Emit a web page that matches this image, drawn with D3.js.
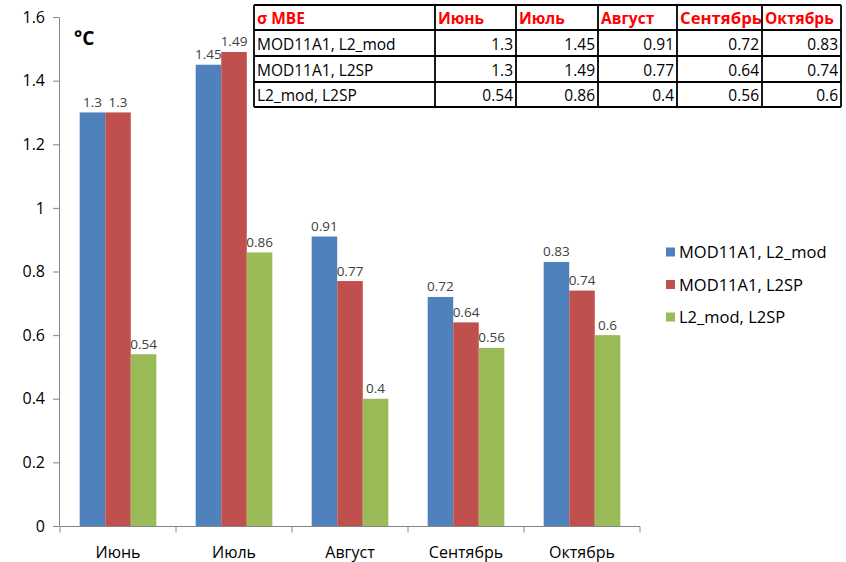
<!DOCTYPE html>
<html>
<head>
<meta charset="utf-8">
<script src="https://cdn.jsdelivr.net/npm/d3@7"></script>
<style>
  html, body { margin: 0; padding: 0; background: #fff; }
  svg { display: block; }
  text { font-family: "Open Sans", "Noto Sans", sans-serif; }
</style>
</head>
<body>
<svg id="chart" width="846" height="562"></svg>
<script>
// Months and series of σ MBE, °C
const months = ["Июнь", "Июль", "Август", "Сентябрь", "Октябрь"];
const seriesNames = ["MOD11A1, L2_mod", "MOD11A1, L2SP", "L2_mod, L2SP"];
const mod11a1_l2mod = [1.3, 1.45, 0.91, 0.72, 0.83];
const mod11a1_l2sp = [1.3, 1.49, 0.77, 0.64, 0.74];
const l2mod_l2sp = [0.54, 0.86, 0.4, 0.56, 0.6];
const yTicks = [0, 0.2, 0.4, 0.6, 0.8, 1, 1.2, 1.4, 1.6];
const colors = ["#4F81BD", "#C0504D", "#9BBB59"];

const series = [mod11a1_l2mod, mod11a1_l2sp, l2mod_l2sp];

const svg = d3.select("#chart");

const x = d3.scaleBand().domain(months).range([60, 640]).paddingInner(0).paddingOuter(0);
const inner = d3.scaleBand().domain(d3.range(series.length)).range([0, x.bandwidth()]).paddingInner(0).paddingOuter(0.77);
const y = d3.scaleLinear().domain([0, 1.6]).range([526, 17]);

// Bars
series.forEach((vals, si) => {
  svg.append("g").selectAll("rect").data(vals).join("rect")
    .attr("x", (d, i) => x(months[i]) + inner(si))
    .attr("y", d => y(d))
    .attr("width", inner.bandwidth())
    .attr("height", d => y(0) - y(d))
    .attr("fill", colors[si]);
  svg.append("g").selectAll("text").data(vals).join("text")
    .attr("x", (d, i) => x(months[i]) + inner(si) + inner.bandwidth() / 2)
    .attr("y", d => y(d) - 5.5)
    .attr("text-anchor", "middle")
    .attr("font-size", 13.5)
    .attr("fill", "#404040")
    .text(d => d);
});

// Y axis
const yAxis = d3.axisLeft(y).tickValues(yTicks).tickSize(6).tickPadding(8).tickFormat(d => d);
const gy = svg.append("g").attr("transform", "translate(59,0)").call(yAxis);
gy.select(".domain").attr("stroke", "#868686");
gy.selectAll(".tick line").attr("stroke", "#868686");
gy.selectAll(".tick text").attr("font-size", 16).attr("fill", "#000")
  .attr("font-family", "'Open Sans', sans-serif");

// X axis with ticks at category boundaries
const gx = svg.append("g").attr("transform", "translate(0,526.5)");
gx.append("line").attr("x1", 60).attr("x2", 640).attr("stroke", "#868686");
const bounds = months.map(m => x(m)).concat([x.range()[1]]);
gx.selectAll("line.tk").data(bounds).join("line").attr("class", "tk")
  .attr("x1", d => d).attr("x2", d => d).attr("y1", 0).attr("y2", 6)
  .attr("stroke", "#868686");
gx.selectAll("text").data(months).join("text")
  .attr("x", d => x(d) + x.bandwidth() / 2)
  .attr("y", 31)
  .attr("text-anchor", "middle")
  .attr("font-size", 16)
  .attr("fill", "#000")
  .text(d => d);

// Unit label
svg.append("text").attr("x", 74).attr("y", 45).attr("font-size", 19)
  .attr("font-weight", "bold").text("°C");

// Legend
const legend = svg.append("g");
seriesNames.forEach((n, i) => {
  const ly = 252 + i * 32.5;
  legend.append("rect").attr("x", 666).attr("y", ly - 4.5).attr("width", 9).attr("height", 9).attr("fill", colors[i]);
  legend.append("text").attr("x", 679).attr("y", ly + 6).attr("font-size", 16.5).attr("fill", "#000").text(n);
});

// Summary table
const colEdges = [254, 435, 516, 598, 677, 762, 841];
const rowEdges = [5, 30, 56, 82, 107];
const table = svg.append("g");
table.append("rect").attr("x", colEdges[0]).attr("y", rowEdges[0])
  .attr("width", colEdges[6] - colEdges[0]).attr("height", rowEdges[4] - rowEdges[0])
  .attr("fill", "#fff");
const header = ["σ МВЕ"].concat(months);
header.forEach((h, c) => {
  table.append("text").attr("x", colEdges[c] + 3).attr("y", rowEdges[1] - 6)
    .attr("font-size", 15.5).attr("font-weight", "bold").attr("fill", "#FF0000")
    .attr("textLength", c === 4 ? 82 : null).attr("lengthAdjust", "spacingAndGlyphs").text(h);
});
series.forEach((vals, r) => {
  const ty = rowEdges[r + 2] - 6;
  table.append("text").attr("x", colEdges[0] + 3).attr("y", ty).attr("font-size", 15.5).text(seriesNames[r]);
  vals.forEach((v, c) => {
    table.append("text").attr("x", colEdges[c + 2] - 3).attr("y", ty)
      .attr("text-anchor", "end").attr("font-size", 15.5).text(v);
  });
});
table.selectAll("line.h").data(rowEdges).join("line").attr("class", "h")
  .attr("x1", colEdges[0]).attr("x2", colEdges[6]).attr("y1", d => d).attr("y2", d => d)
  .attr("stroke", "#000").attr("stroke-width", 1.8);
table.selectAll("line.v").data(colEdges).join("line").attr("class", "v")
  .attr("y1", rowEdges[0]).attr("y2", rowEdges[4]).attr("x1", d => d).attr("x2", d => d)
  .attr("stroke", "#000").attr("stroke-width", 1.8);
</script>
</body>
</html>
